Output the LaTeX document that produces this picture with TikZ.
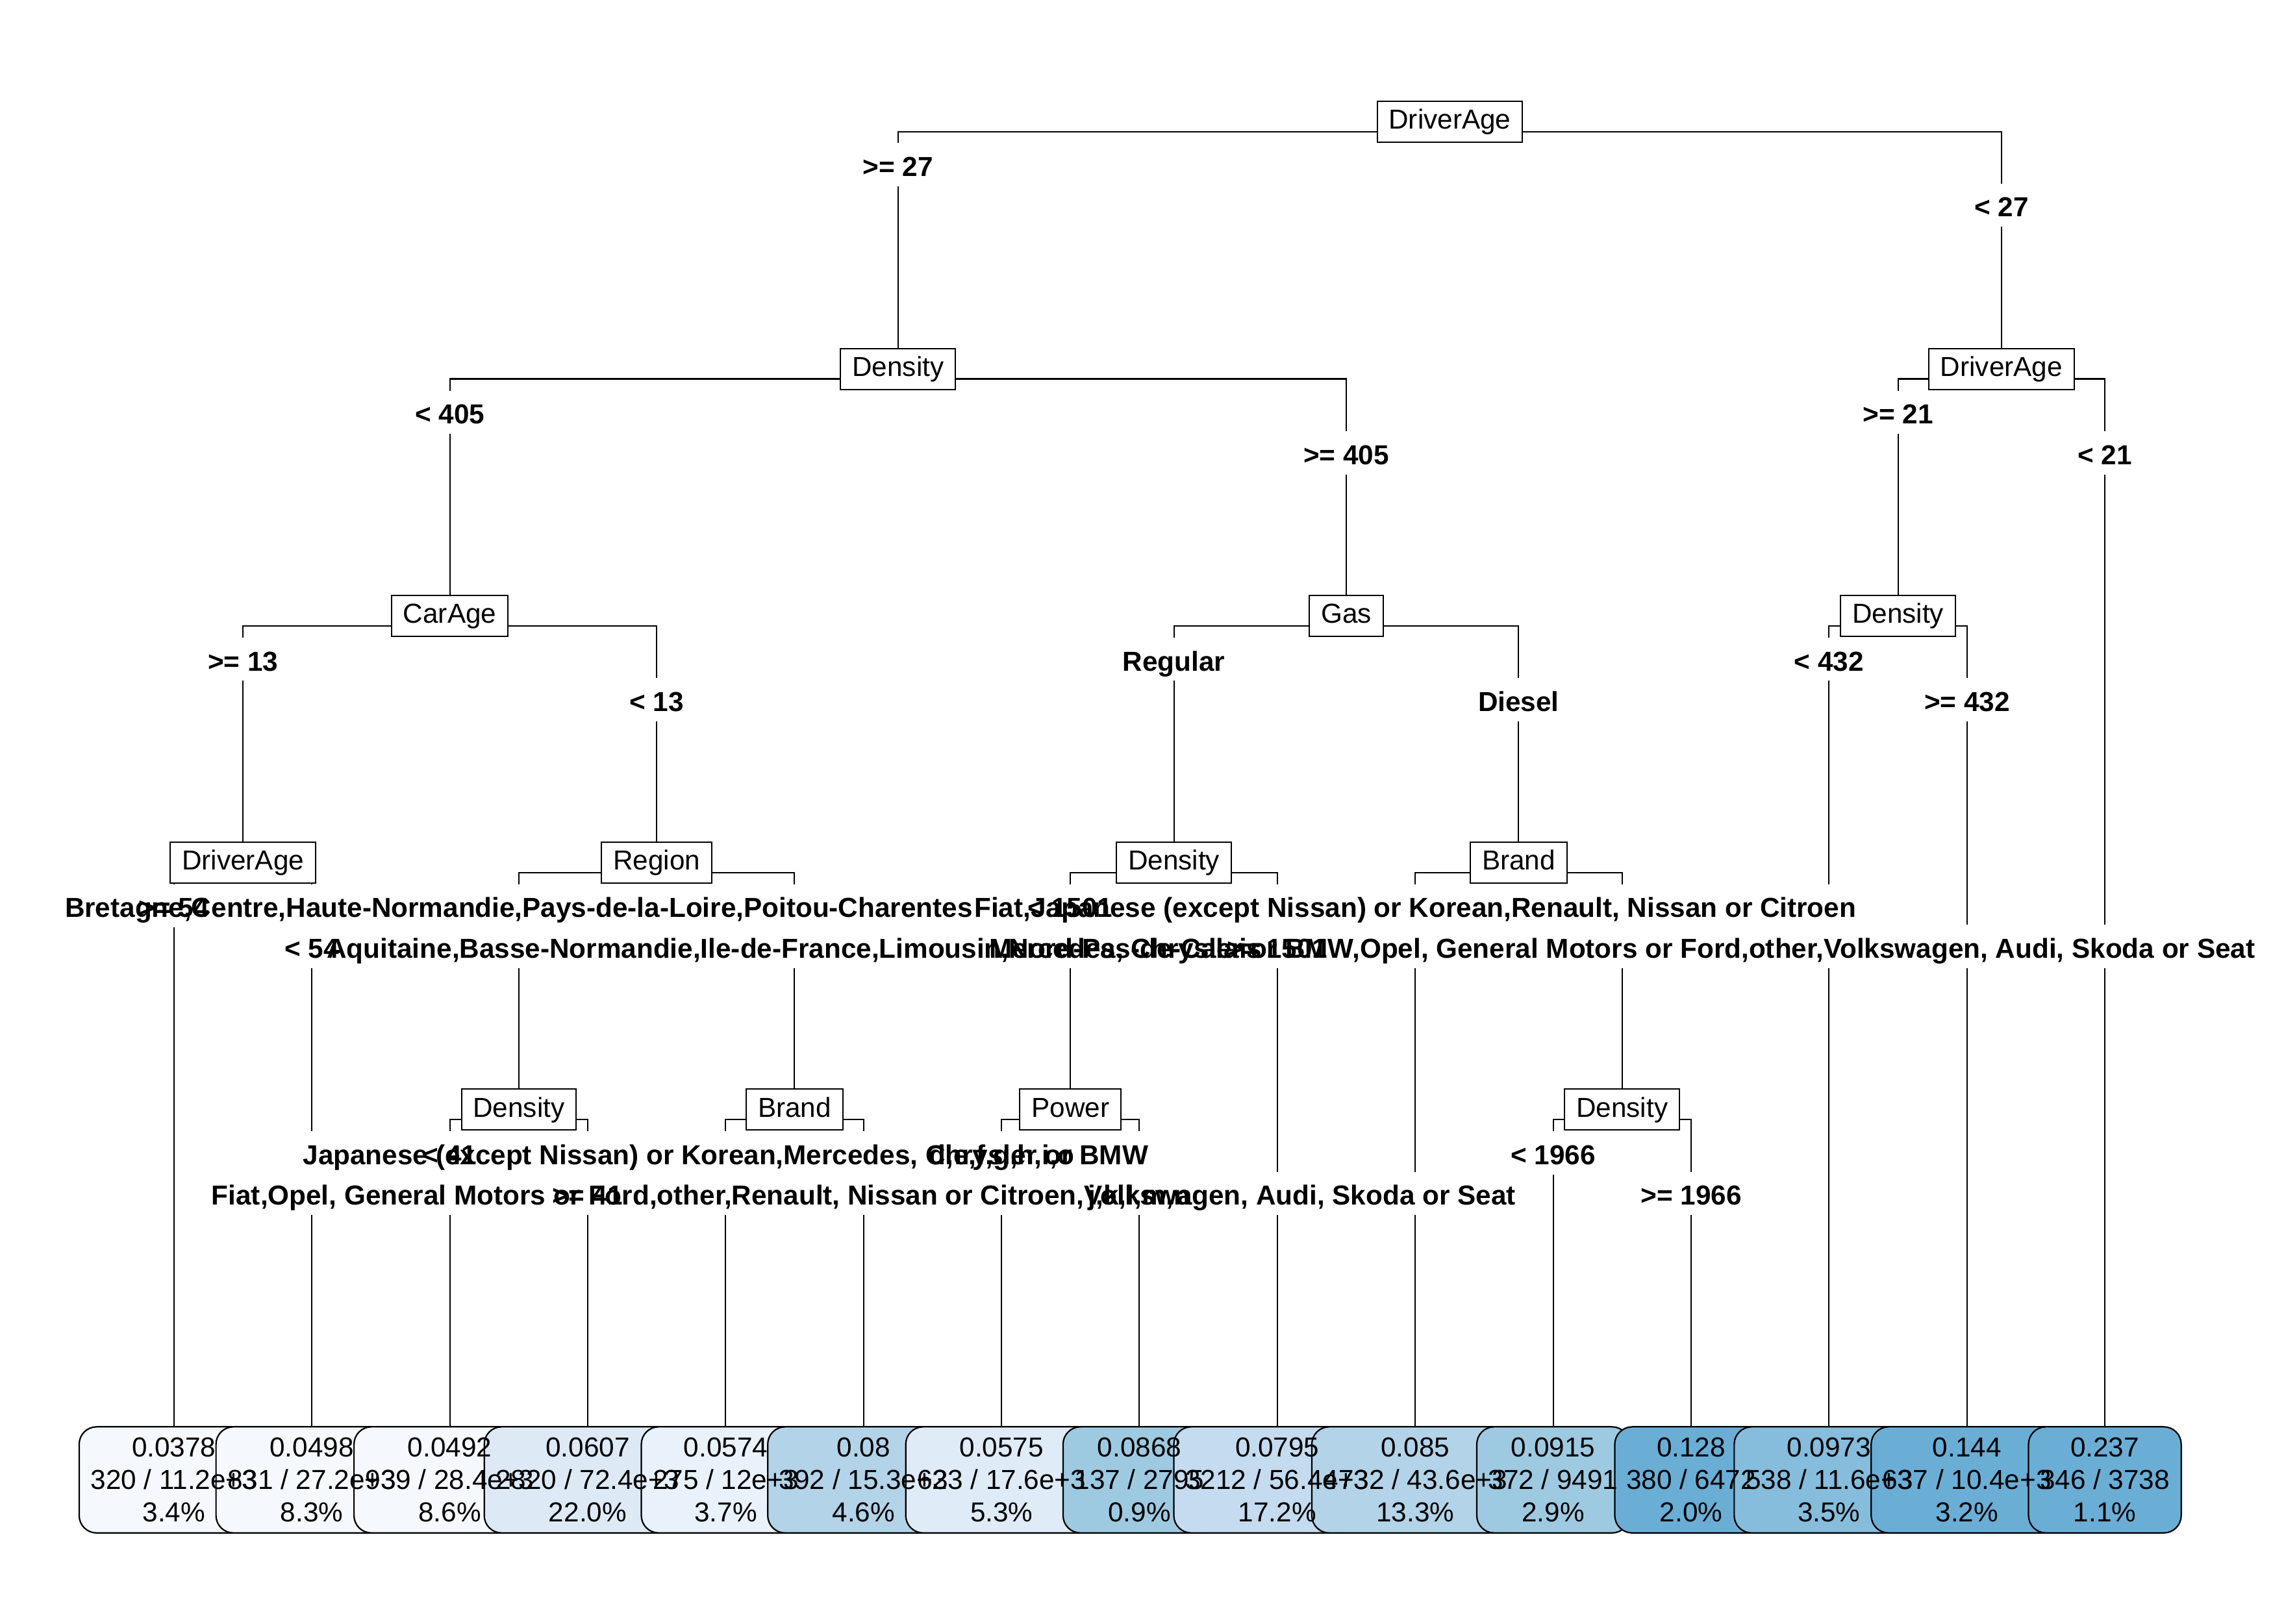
\documentclass[tikz,border=0pt]{standalone}
\usepackage{fontspec}
\setmainfont{Liberation Sans}
\usetikzlibrary{calc}
\pgfdeclarelayer{wires}
\pgfdeclarelayer{fills}
\pgfsetlayers{wires,fills,main}

\definecolor{b1}{HTML}{F5F9FE}
\definecolor{b2}{HTML}{F5F9FE}
\definecolor{b3}{HTML}{F5F9FE}
\definecolor{b4}{HTML}{DDEAF6}
\definecolor{b5}{HTML}{E9F1FA}
\definecolor{b6}{HTML}{B3D3E8}
\definecolor{b7}{HTML}{DFEBF7}
\definecolor{b8}{HTML}{9ECAE1}
\definecolor{b9}{HTML}{C5DBEF}
\definecolor{b10}{HTML}{B3D3E8}
\definecolor{b11}{HTML}{9ECAE1}
\definecolor{b12}{HTML}{6AAED6}
\definecolor{b13}{HTML}{86BCDC}
\definecolor{b14}{HTML}{6AAED6}
\definecolor{b15}{HTML}{6AAED6}

\newcommand\nodefont{\fontsize{9.47pt}{11.2pt}\selectfont}
\newcommand\labfont{\fontsize{9.47pt}{11.2pt}\selectfont\bfseries}

\tikzset{
  split/.style={draw, fill=white, line width=0.45pt, font=\nodefont,
    inner xsep=4pt, inner ysep=0pt, minimum height=14.1pt,
    text height=6.9pt, text depth=1.9pt},
  leaf/.style={font=\nodefont, align=center, inner xsep=3.75pt,
    inner ysep=0pt, minimum height=36.2pt},
  lab/.style={font=\labfont, anchor=base, inner xsep=1.5pt, inner ysep=1pt,
    text height=10.25pt, text depth=2.25pt},
  wire/.style={line width=0.45pt},
  leafbox/.style={draw, line width=0.5pt, rounded corners=6pt, fill=#1},
}

\begin{document}
\begin{tikzpicture}[x=0.5pt, y=-0.5pt]
\useasboundingbox (0,0) rectangle (1568,1120);

% split nodes
\node[split] (s1)  at (1000.1,84)   {DriverAge};
\node[split] (s2)  at (619.5,254.6) {Density};
\node[split] (s3)  at (1380.7,254.6) {DriverAge};
\node[split] (s4)  at (310.3,425)   {CarAge};
\node[split] (s5)  at (928.7,425)   {Gas};
\node[split] (s6)  at (1309.3,425)  {Density};
\node[split] (s7)  at (167.6,595.2) {DriverAge};
\node[split] (s8)  at (453,595.2)   {Region};
\node[split] (s9)  at (809.8,595.2) {Density};
\node[split] (s10) at (1047.6,595.2) {Brand};
\node[split] (s11) at (357.9,765.6) {Density};
\node[split] (s12) at (548.1,765.6) {Brand};
\node[split] (s13) at (738.4,765.6) {Power};
\node[split] (s14) at (1119,765.6)  {Density};

% leaves
\node[leaf] (l1)  at (120,1021)   {0.0378\\320 / 11.2e+3\\3.4\%};
\node[leaf] (l2)  at (215.1,1021) {0.0498\\831 / 27.2e+3\\8.3\%};
\node[leaf] (l3)  at (310.3,1021) {0.0492\\939 / 28.4e+3\\8.6\%};
\node[leaf] (l4)  at (405.4,1021) {0.0607\\2820 / 72.4e+3\\22.0\%};
\node[leaf] (l5)  at (500.6,1021) {0.0574\\275 / 12e+3\\3.7\%};
\node[leaf] (l6)  at (595.7,1021) {0.08\\392 / 15.3e+3\\4.6\%};
\node[leaf] (l7)  at (690.9,1021) {0.0575\\623 / 17.6e+3\\5.3\%};
\node[leaf] (l8)  at (786,1021)   {0.0868\\137 / 2795\\0.9\%};
\node[leaf] (l9)  at (881.1,1021) {0.0795\\3212 / 56.4e+3\\17.2\%};
\node[leaf] (l10) at (976.3,1021) {0.085\\4732 / 43.6e+3\\13.3\%};
\node[leaf] (l11) at (1071.4,1021) {0.0915\\372 / 9491\\2.9\%};
\node[leaf] (l12) at (1166.6,1021) {0.128\\380 / 6472\\2.0\%};
\node[leaf] (l13) at (1261.7,1021) {0.0973\\538 / 11.6e+3\\3.5\%};
\node[leaf] (l14) at (1356.9,1021) {0.144\\637 / 10.4e+3\\3.2\%};
\node[leaf] (l15) at (1452,1021)   {0.237\\346 / 3738\\1.1\%};

% split labels
\node[lab] (e1)  at (619.5,121.6)  {>= 27};
\node[lab] (e2)  at (1380.7,149.6) {< 27};
\node[lab] (e3)  at (310.3,292.4)  {< 405};
\node[lab] (e4)  at (928.7,320.4)  {>= 405};
\node[lab] (e5)  at (1309.3,292.4) {>= 21};
\node[lab] (e6)  at (1452,320.4)   {< 21};
\node[lab] (e7)  at (167.6,462.8)  {>= 13};
\node[lab] (e8)  at (453,490.8)    {< 13};
\node[lab] (e9)  at (809.8,462.8)  {Regular};
\node[lab] (e10) at (1047.6,490.8) {Diesel};
\node[lab] (e11) at (1261.7,462.8) {< 432};
\node[lab] (e12) at (1356.9,490.8) {>= 432};
\node[lab] (e13) at (120,633)      {>= 54};
\node[lab] (e14) at (215.1,661)    {< 54};
\node[lab] (e15) at (357.9,633)    {Bretagne,Centre,Haute-Normandie,Pays-de-la-Loire,Poitou-Charentes};
\node[lab] (e16) at (548.1,661)    {Aquitaine,Basse-Normandie,Ile-de-France,Limousin,Nord-Pas-de-Calais};
\node[lab] (e17) at (738.4,633)    {< 1501};
\node[lab] (e18) at (881.1,661)    {>= 1501};
\node[lab] (e19) at (976.3,633)    {Fiat,Japanese (except Nissan) or Korean,Renault, Nissan or Citroen};
\node[lab] (e20) at (1119,661)     {Mercedes, Chrysler or BMW,Opel, General Motors or Ford,other,Volkswagen, Audi, Skoda or Seat};
\node[lab] (e21) at (310.3,803.4)  {< 41};
\node[lab] (e22) at (405.4,831.4)  {>= 41};
\node[lab] (e23) at (500.6,803.4)  {Japanese (except Nissan) or Korean,Mercedes, Chrysler or BMW};
\node[lab] (e24) at (595.7,831.4)  {Fiat,Opel, General Motors or Ford,other,Renault, Nissan or Citroen,Volkswagen, Audi, Skoda or Seat};
\node[lab] (e25) at (690.9,803.4)  {d,e,f,g,h,i,o};
\node[lab] (e26) at (786,831.4)    {j,k,l,m,n};
\node[lab] (e27) at (1071.4,803.4) {< 1966};
\node[lab] (e28) at (1166.6,831.4) {>= 1966};

% branches
\begin{pgfonlayer}{wires}
\foreach \p/\a/\b in {s1/s2/s3, s2/s4/s5, s3/s6/l15, s4/s7/s8, s5/s9/s10,
    s6/l13/l14, s7/l1/l2, s8/s11/s12, s9/s13/l9, s10/l10/s14, s11/l3/l4,
    s12/l5/l6, s13/l7/l8, s14/l11/l12}
  \draw[wire] (\a.north) |- ($(\p.center)+(0,6.8)$) -| (\b.north);
\end{pgfonlayer}

% label backgrounds and leaf boxes
\begin{pgfonlayer}{fills}
\foreach \n in {1,...,28}
  \fill[white] (e\n.south west) rectangle (e\n.north east);
\foreach \n in {1,...,15}
  \filldraw[leafbox=b\n] (l\n.south west) rectangle (l\n.north east);
\end{pgfonlayer}
\end{tikzpicture}
\end{document}
